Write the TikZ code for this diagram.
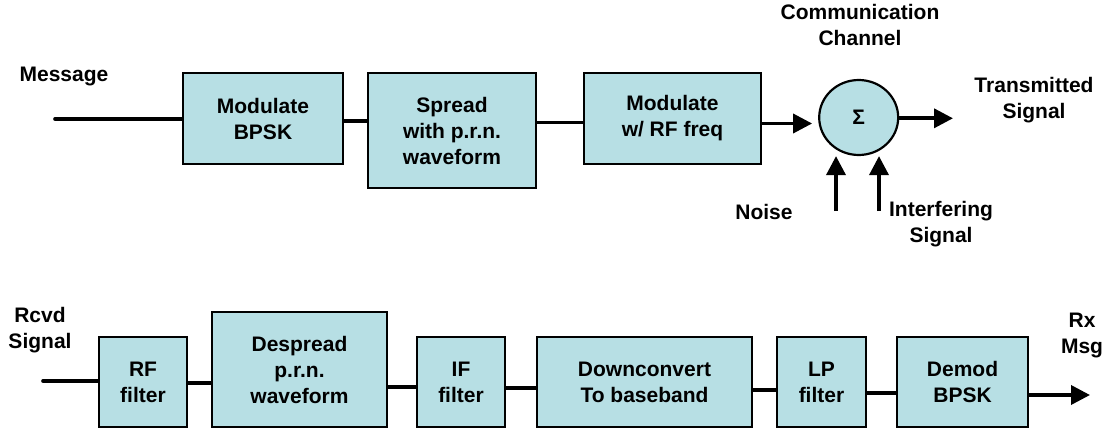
\documentclass[tikz,border=0pt]{standalone}
\usepackage{fontspec}
\setmainfont{Liberation Sans}
\usetikzlibrary{arrows.meta,shapes.geometric}
\definecolor{boxfill}{RGB}{183,223,228}
\begin{document}
\begin{tikzpicture}[x=1pt,y=-1pt,
  font=\fontsize{21}{26}\selectfont\bfseries,
  blk/.style={draw=black, line width=2.2pt, fill=boxfill, align=center, inner sep=0pt},
  wire/.style={line width=3.6pt},
  freewire/.style={line width=3.6pt, line cap=round},
  arr/.style={line width=3.6pt, -{Triangle[length=19pt,width=19pt]}},
  lbl/.style={align=center, inner sep=0pt}]
\useasboundingbox (0,0) rectangle (1114,433);
% ---- top row ----
\node[lbl] (msg) at (64,77) {Message};
\node[blk, minimum width=160pt, minimum height=91pt] (b1) at (263,118.5) {Modulate\\BPSK};
\node[blk, minimum width=168pt, minimum height=115pt] (b2) at (452,130.5) {Spread\\with p.r.n.\\waveform};
\node[blk, minimum width=177pt, minimum height=91pt] (b3) at (672.5,118.5) {Modulate\\w/ RF freq};
\node[ellipse, draw=black, line width=2.2pt, fill=boxfill, inner sep=0pt, minimum width=79pt, minimum height=75pt] (sum) at (858.7,117.5) {Σ};
\node[lbl] (chan) at (860,25) {Communication\\Channel};
\node[lbl] (tx) at (1034,100) {Transmitted\\Signal};
\node[lbl] (noise) at (764,212) {Noise};
\node[lbl] (intf) at (941,224) {Interfering\\Signal};
\coordinate (msgin) at (55,119);
\coordinate (txout) at (953,118.3);
\coordinate (n1) at (836,211);
\coordinate (n2) at (879,211);
\draw[freewire] (msgin) -- (b1.west |- msgin);
\draw[wire] (b1.east |- 0,121) -- (b2.west |- 0,121);
\draw[wire] (b2.east |- 0,122.5) -- (b3.west |- 0,122.5);
\draw[arr, shorten >=6pt] (b3.east |- 0,123.5) -- (sum.west |- 0,123.5);
\draw[arr] (sum.east |- txout) -- (txout);
\draw[arr] (n1) -- (n1 |- sum.south);
\draw[arr] (n2) -- (n2 |- sum.south);
% ---- bottom row ----
\node[lbl] (rcvd) at (40,330) {Rcvd\\Signal};
\node[lbl] (rx) at (1082,335) {Rx\\Msg};
\node[blk, minimum width=88pt, minimum height=90pt] (rf) at (143,382) {RF\\filter};
\node[blk, minimum width=175pt, minimum height=115pt] (ds) at (299.5,369.5) {Despread\\p.r.n.\\waveform};
\node[blk, minimum width=88pt, minimum height=90pt] (iff) at (461,382) {IF\\filter};
\node[blk, minimum width=215pt, minimum height=90pt] (dc) at (644.5,382) {Downconvert\\To baseband};
\node[blk, minimum width=89pt, minimum height=90pt] (lp) at (821.5,382) {LP\\filter};
\node[blk, minimum width=131pt, minimum height=90pt] (dm) at (962.5,382) {Demod\\BPSK};
\coordinate (rin) at (43,381);
\coordinate (rxout) at (1090,395);
\draw[freewire] (rin) -- (rf.west |- rin);
\draw[wire] (rf.east |- 0,383) -- (ds.west |- 0,383);
\draw[wire] (ds.east |- 0,387) -- (iff.west |- 0,387);
\draw[wire] (iff.east |- 0,388) -- (dc.west |- 0,388);
\draw[wire] (dc.east |- 0,390) -- (lp.west |- 0,390);
\draw[wire] (lp.east |- 0,393) -- (dm.west |- 0,393);
\draw[arr] (dm.east |- rxout) -- (rxout);
\end{tikzpicture}
\end{document}
